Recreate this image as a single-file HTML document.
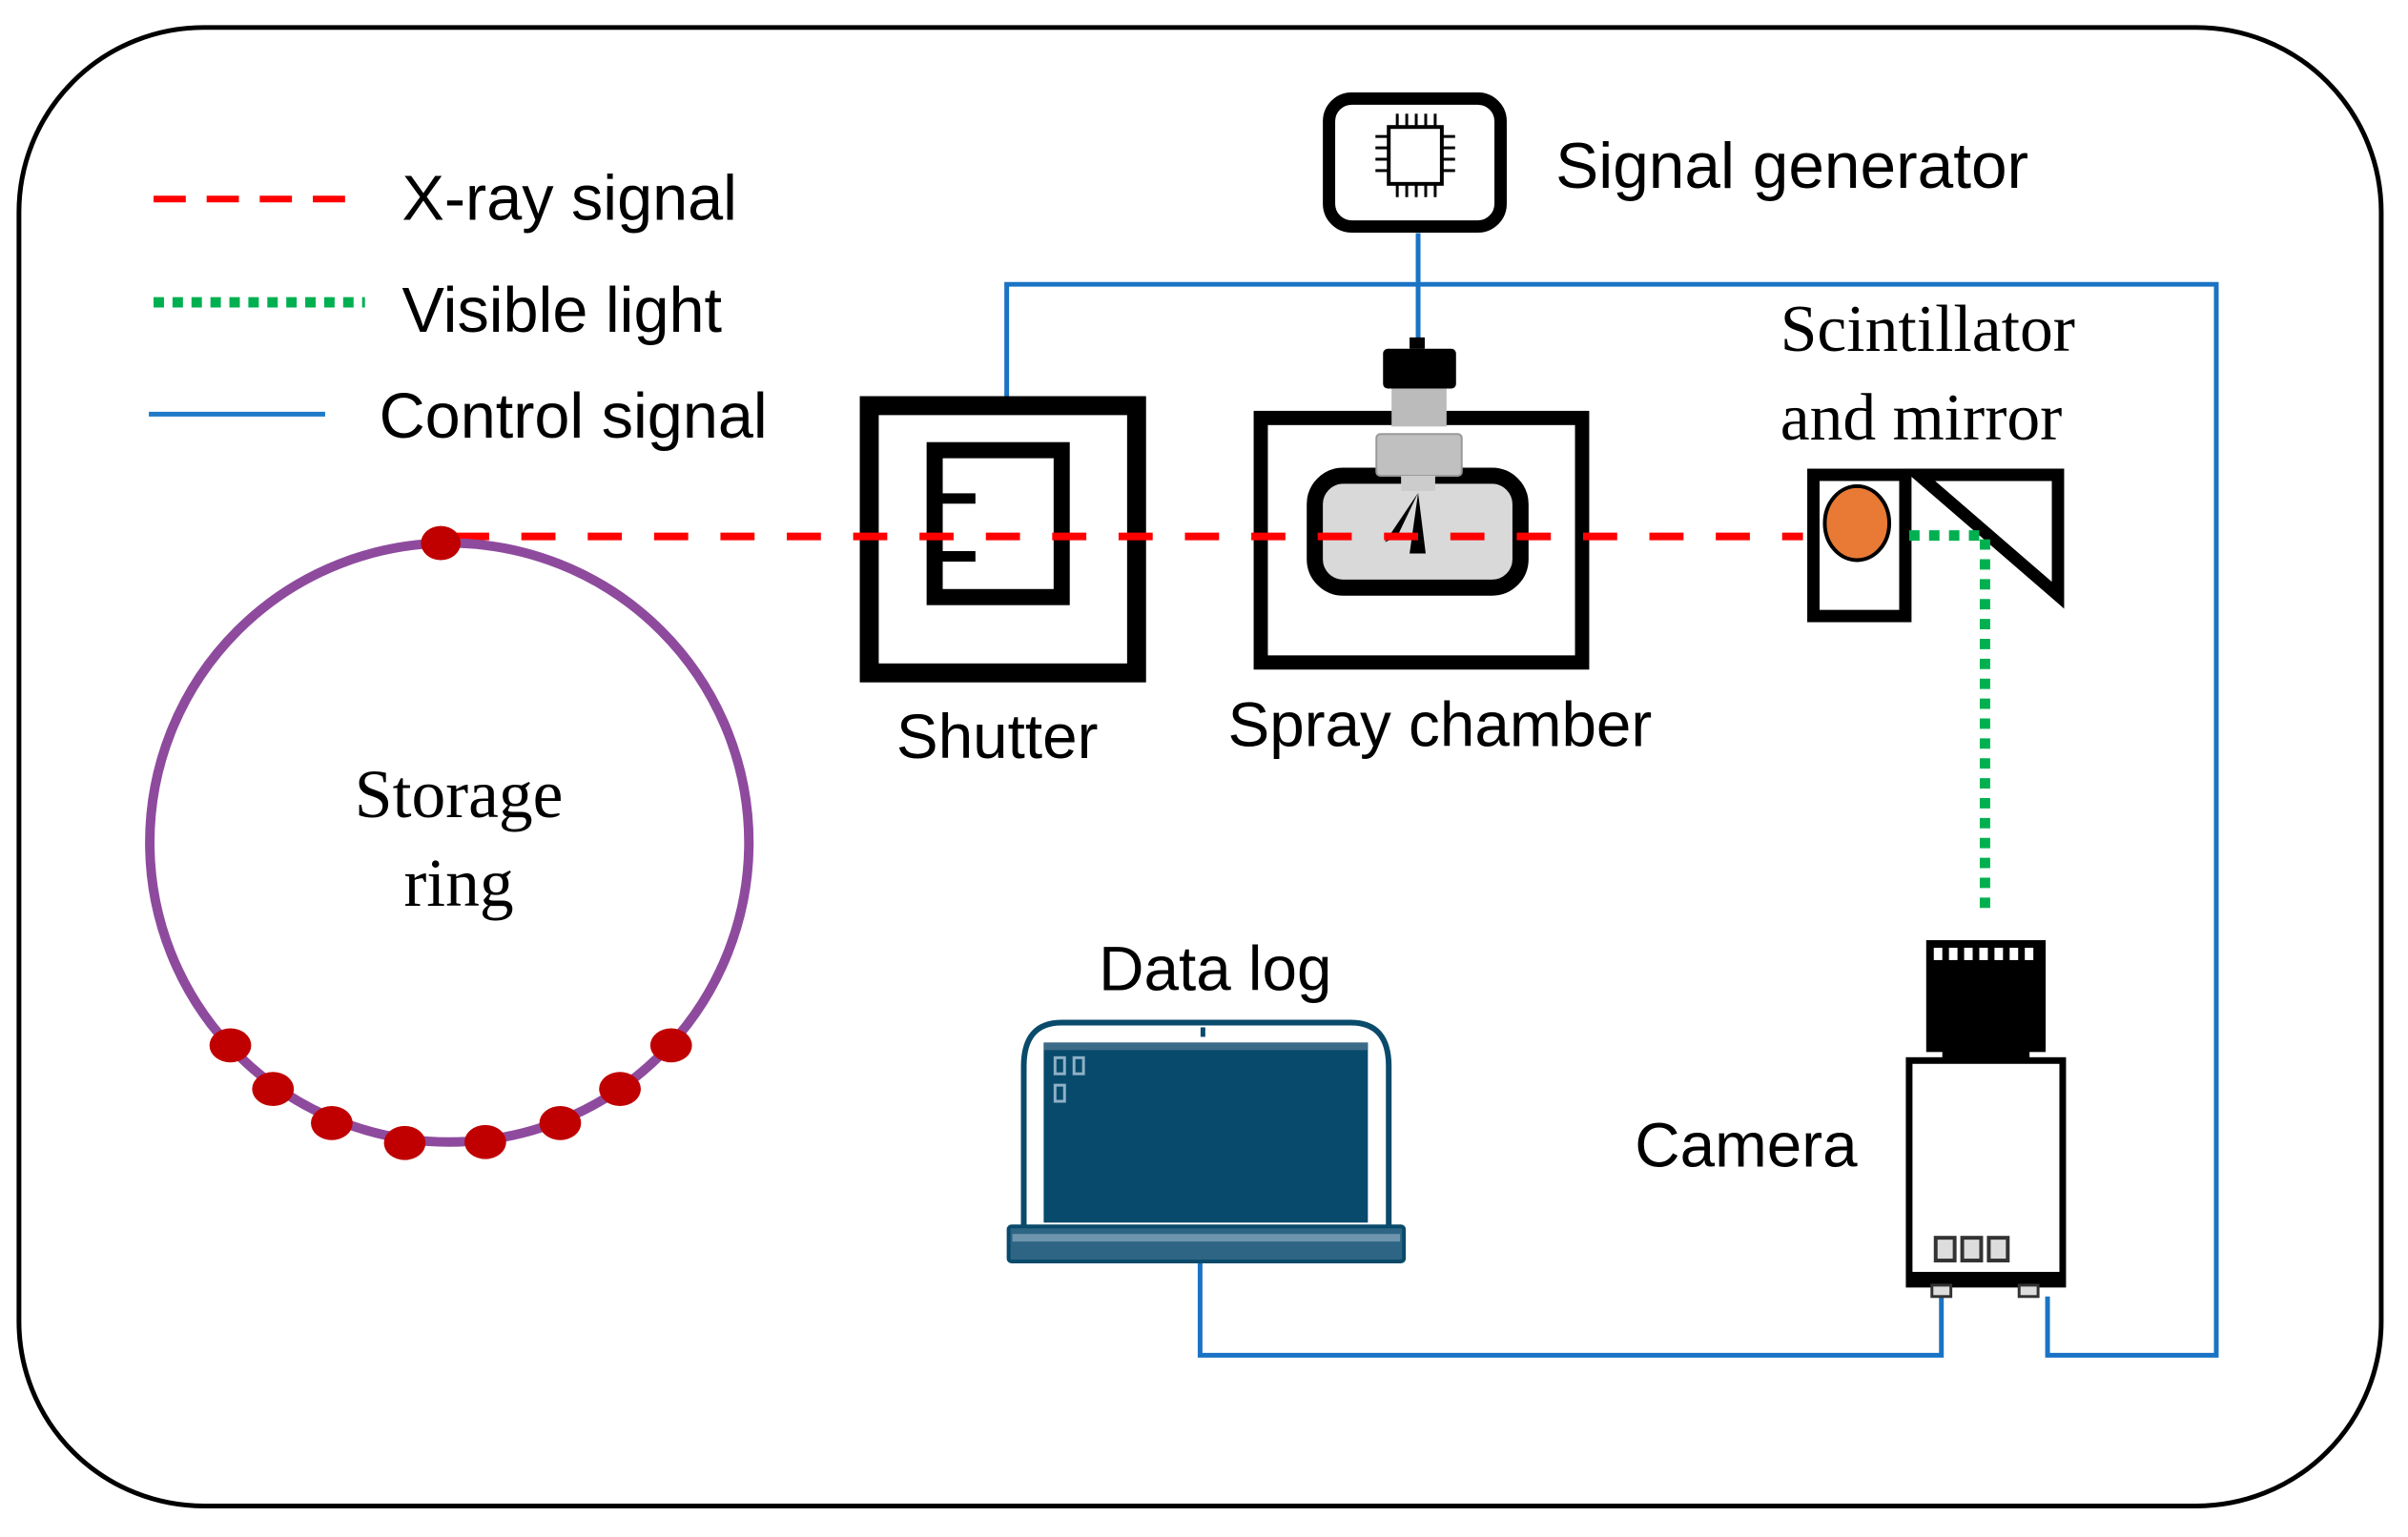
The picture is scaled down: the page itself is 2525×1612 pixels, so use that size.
<!DOCTYPE html>
<html><head><meta charset="utf-8"><style>
html,body{margin:0;padding:0;background:#fff;}
svg{display:block;}
.s{font-family:"Liberation Sans",sans-serif;}
.r{font-family:"Liberation Serif",serif;}
</style></head><body>
<svg width="2525" height="1612" viewBox="0 0 2525 1612" xmlns="http://www.w3.org/2000/svg">
<g transform="scale(0.994)">
<rect x="20" y="29" width="2492" height="1560" rx="195" fill="#fff" stroke="#000" stroke-width="5"/>

<!-- legend -->
<line x1="162" y1="210" x2="380" y2="210" stroke="#f00" stroke-width="7" stroke-dasharray="34,22"/>
<text x="424" y="232" class="s" font-size="67">X-ray signal</text>
<line x1="162" y1="319" x2="385" y2="319" stroke="#00b050" stroke-width="11" stroke-dasharray="11,9"/>
<text x="424" y="350" class="s" font-size="67">Visible light</text>
<line x1="157" y1="437" x2="343" y2="437" stroke="#1f7ac8" stroke-width="5"/>
<text x="400" y="462" class="s" font-size="67">Control signal</text>

<!-- control lines -->
<g stroke="#1a73c4" stroke-width="5" fill="none">
<polyline points="1062,424 1062,300 2338,300 2338,1430 2160,1430 2160,1368"/>
<line x1="1496" y1="246" x2="1496" y2="362"/>
<polyline points="1266,1331 1266,1430 2048,1430 2048,1368"/>
</g>

<!-- signal generator -->
<rect x="1402" y="104" width="181" height="135" rx="24" fill="#fff" stroke="#000" stroke-width="13"/>
<rect x="1465" y="134" width="56" height="60" fill="#fff" stroke="#000" stroke-width="4"/>
<g stroke="#000" stroke-width="3">
<line x1="1474" y1="120" x2="1474" y2="134"/><line x1="1484" y1="120" x2="1484" y2="134"/><line x1="1494" y1="120" x2="1494" y2="134"/><line x1="1504" y1="120" x2="1504" y2="134"/><line x1="1514" y1="120" x2="1514" y2="134"/>
<line x1="1474" y1="194" x2="1474" y2="208"/><line x1="1484" y1="194" x2="1484" y2="208"/><line x1="1494" y1="194" x2="1494" y2="208"/><line x1="1504" y1="194" x2="1504" y2="208"/><line x1="1514" y1="194" x2="1514" y2="208"/>
<line x1="1451" y1="144" x2="1465" y2="144"/><line x1="1451" y1="156" x2="1465" y2="156"/><line x1="1451" y1="168" x2="1465" y2="168"/><line x1="1451" y1="180" x2="1465" y2="180"/>
<line x1="1521" y1="144" x2="1535" y2="144"/><line x1="1521" y1="156" x2="1535" y2="156"/><line x1="1521" y1="168" x2="1535" y2="168"/><line x1="1521" y1="180" x2="1535" y2="180"/>
</g>
<text x="1641" y="198" class="s" font-size="68">Signal generator</text>

<!-- shutter -->
<rect x="917" y="428" width="282" height="282" fill="#fff" stroke="#000" stroke-width="20"/>
<rect x="986" y="475" width="134" height="155" fill="#fff" stroke="#000" stroke-width="17"/>
<line x1="986" y1="526" x2="1029" y2="526" stroke="#000" stroke-width="11"/>
<line x1="986" y1="587" x2="1029" y2="587" stroke="#000" stroke-width="11"/>
<text x="1052" y="800" class="s" font-size="66" text-anchor="middle">Shutter</text>

<!-- spray chamber -->
<rect x="1330" y="441" width="339" height="258" fill="#fff" stroke="#000" stroke-width="15"/>
<rect x="1387" y="502" width="217" height="118" rx="30" fill="#d9d9d9" stroke="#000" stroke-width="17"/>
<rect x="1487" y="356" width="16" height="12" fill="#000"/>
<rect x="1459" y="368" width="77" height="42" rx="5" fill="#000"/>
<rect x="1468" y="410" width="58" height="40" fill="#bbb"/>
<rect x="1452" y="458" width="90" height="44" rx="4" fill="#c0c0c0" stroke="#999" stroke-width="2"/>
<rect x="1478" y="502" width="36" height="16" fill="#ccc"/>
<polygon points="1496,520 1461,572 1474,566" fill="#000"/>
<polygon points="1496,520 1487,584 1504,584" fill="#000"/>
<text x="1519" y="787" class="s" font-size="66" text-anchor="middle">Spray chamber</text>

<!-- x-ray line -->
<line x1="480" y1="566" x2="1902" y2="566" stroke="#f00" stroke-width="8" stroke-dasharray="36,34"/>

<!-- scintillator & mirror -->
<rect x="1913" y="501" width="97" height="149" fill="#fff" stroke="#000" stroke-width="13"/>
<ellipse cx="1959" cy="552" rx="34" ry="39" fill="#e87a35" stroke="#000" stroke-width="4"/>
<polygon points="2024,501 2171,501 2171,628" fill="none" stroke="#000" stroke-width="13" stroke-linejoin="miter"/>
<text x="1878" y="370" class="r" font-size="70">Scintillator</text>
<text x="1878" y="464" class="r" font-size="70">and mirror</text>

<!-- visible light -->
<polyline points="2014,565 2094,565 2094,968" fill="none" stroke="#00b050" stroke-width="11" stroke-dasharray="11,10"/>

<!-- storage ring -->
<circle cx="474" cy="889" r="316" fill="none" stroke="#8e4b9e" stroke-width="10"/>
<g fill="#c00000">
<ellipse cx="465" cy="573" rx="21" ry="18"/>
<ellipse cx="243" cy="1103" rx="22" ry="18"/>
<ellipse cx="288" cy="1149" rx="22" ry="18"/>
<ellipse cx="350" cy="1185" rx="22" ry="18"/>
<ellipse cx="427" cy="1206" rx="22" ry="18"/>
<ellipse cx="512" cy="1205" rx="22" ry="18"/>
<ellipse cx="591" cy="1185" rx="22" ry="18"/>
<ellipse cx="654" cy="1149" rx="22" ry="18"/>
<ellipse cx="708" cy="1103" rx="22" ry="18"/>
</g>
<text x="484" y="862" class="r" font-size="72" text-anchor="middle">Storage</text>
<text x="484" y="956" class="r" font-size="72" text-anchor="middle">ring</text>

<!-- data log laptop -->
<path d="M1080,1300 L1080,1125 Q1080,1079 1120,1079 L1425,1079 Q1465,1079 1465,1125 L1465,1300" fill="#fff" stroke="#0a4a6b" stroke-width="6"/>
<rect x="1101" y="1100" width="342" height="190" fill="#074a6b"/>
<rect x="1101" y="1100" width="342" height="8" fill="#3c6b88"/>
<line x1="1269" y1="1084" x2="1269" y2="1094" stroke="#0a4a6b" stroke-width="5"/>
<g fill="none" stroke="#8fb0c6" stroke-width="3">
<rect x="1113" y="1116" width="10" height="17"/><rect x="1133" y="1116" width="10" height="17"/><rect x="1113" y="1145" width="10" height="17"/>
</g>
<rect x="1064" y="1294" width="417" height="37" rx="3" fill="#2e6585" stroke="#0a4a6b" stroke-width="4"/>
<rect x="1068" y="1302" width="409" height="8" fill="#6e95ad"/>
<text x="1282" y="1045" class="s" font-size="66" text-anchor="middle">Data log</text>

<!-- camera -->
<rect x="2032" y="992" width="126" height="118" fill="#000"/>
<g fill="#fff"><rect x="2040" y="1000" width="9" height="13"/><rect x="2056" y="1000" width="9" height="13"/><rect x="2072" y="1000" width="9" height="13"/><rect x="2088" y="1000" width="9" height="13"/><rect x="2104" y="1000" width="9" height="13"/><rect x="2120" y="1000" width="9" height="13"/><rect x="2136" y="1000" width="9" height="13"/></g>
<rect x="2049" y="1105" width="92" height="22" fill="#000"/>
<rect x="2014" y="1119" width="162" height="236" fill="#fff" stroke="#000" stroke-width="7"/>
<rect x="2014" y="1342" width="162" height="14" fill="#000"/>
<g fill="#ddd" stroke="#333" stroke-width="4"><rect x="2042" y="1306" width="20" height="24"/><rect x="2070" y="1306" width="20" height="24"/><rect x="2098" y="1306" width="20" height="24"/></g>
<g fill="#ddd" stroke="#333" stroke-width="3"><rect x="2038" y="1356" width="20" height="12"/><rect x="2130" y="1356" width="20" height="12"/></g>
<text x="1842" y="1231" class="s" font-size="66" text-anchor="middle">Camera</text>
</g>
</svg>
</body></html>
